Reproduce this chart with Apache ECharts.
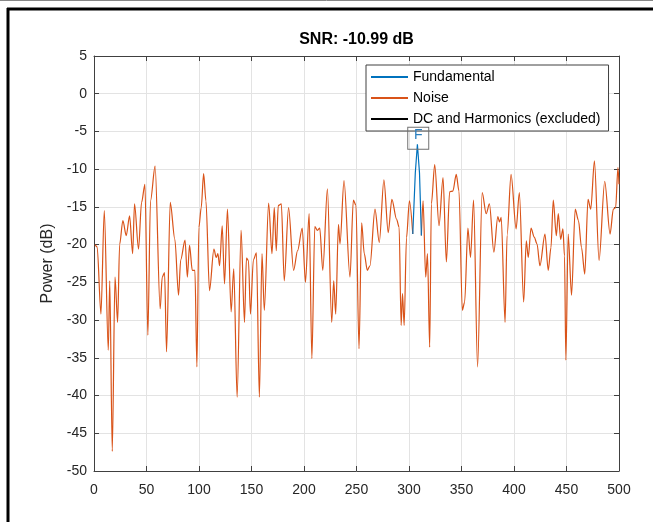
<!DOCTYPE html>
<html>
<head>
<meta charset="utf-8">
<script src="https://cdn.jsdelivr.net/npm/echarts@6/dist/echarts.min.js"></script>
<style>
html,body{margin:0;padding:0;background:#fff;}
#chart{width:653px;height:522px;}
</style>
</head>
<body>
<div id="chart"></div>
<script>
// ---- data ----
const titleText = 'SNR: -10.99 dB';
const yAxisName = 'Power (dB)';
const xTicks = [0, 50, 100, 150, 200, 250, 300, 350, 400, 450, 500];
const yTicks = [5, 0, -5, -10, -15, -20, -25, -30, -35, -40, -45, -50];
const seriesNames = ['Fundamental', 'Noise', 'DC and Harmonics (excluded)'];

const noiseFreq = [1,3,6.6,9.8,13.6,15,17.4,20,22.5,24.4,27.5,30.7,33.9,36.8,38.6,42.4,45.3,48.5,51.3,53.8,58.2,63,65,67.2,69.1,72.6,77,80.5,82.6,86.7,88.9,91,93.6,96.1,98,99.9,102.1,104.4,106.6,110,114.2,116.4,118,119.6,122.1,124.3,127.1,130.6,133.1,136.3,140.1,143.3,145.2,147.1,149,151.8,154.7,157.5,160,162.2,166.3,169.5,171.7,173.6,175.5,178.4,181.2,185.3,190.1,193.9,198.3,201.4,204.9,207.5,210.3,212.8,215,217.9,222.3,226.4,228.3,230.2,232.8,234.3,238.1,243.8,247,249.5,252.4,254.9,257.4,260.3,262.8,267.6,271.7,276.1,280.2,283.7,288.1,290.6,292.5,293.8,295.4,297.6,300.4,303.6,308,311.8,313.4,315.9,317.6,319.7,321.3,324.5,328.6,332.4,335.6,338.7,341.8,345,347.6,350.8,353,356.1,358.6,361.5,365.3,369.7,373.5,376.6,380.8,384.6,386.2,387.8,391.5,393.4,397.2,402,405.1,409.2,411.7,413.6,416.2,419.3,421.9,424.7,429.5,432.6,435.2,437.4,440.3,442.2,444.4,446.6,448.1,449.4,451.6,454.8,458.3,461.4,464.3,467.4,470.5,473.1,476.6,481,486.4,491.5,494.6,496.8,499,500];
const noisePower = [-20,-20.3,-29.2,-15.5,-34,-24.8,-47.4,-24.3,-30.3,-20,-16.8,-18.8,-16.2,-21.2,-14.6,-20.6,-14.4,-12,-32,-14.2,-9.6,-28.5,-24.3,-23.7,-34.2,-14.4,-19.3,-26.7,-22,-19.4,-24.3,-20.1,-23.4,-23.4,-36.2,-17.7,-15.1,-10.6,-14.2,-26.1,-20.6,-21.7,-21.2,-22.8,-17.5,-25.2,-15.3,-28.9,-23.2,-40.2,-18.1,-30.3,-21.8,-22.1,-29.2,-22,-21.1,-40.2,-21.2,-28.7,-14.5,-21.2,-15.1,-20.8,-14.8,-14.6,-24.8,-15.1,-23.4,-20.8,-17.8,-25,-15.9,-35.1,-17.6,-18.1,-17.8,-23.4,-12.6,-30.3,-24.8,-29.2,-17.3,-19.9,-11.5,-24.3,-14.1,-14.8,-33.8,-17.1,-21.2,-23.4,-22.8,-15.3,-19.7,-11.4,-18.4,-14,-16.6,-17.7,-30.7,-26.5,-30.7,-19.1,-14.2,-18.6,null,-18.8,-14.2,-24.3,-21.2,-33.6,-14.6,-9.4,-17.5,-11.1,-22.3,-13,-12.9,-10.7,-12.9,-28.7,-27.6,-17.8,-21.7,-14.1,-36.2,-13.1,-15.9,-14.6,-21,-16.3,-17,-16.4,-30.3,-18.8,-10.7,-17.9,-13.1,-27.6,-19.5,-21.7,-17.8,-19,-19.9,-22.8,-18.6,-23.4,-20.4,-14.1,-18.8,-15.9,-19.3,-17.9,-21.5,-35.3,-18.6,-26.7,-15.3,-16.8,-20.4,-23.9,-14,-15.3,-8.9,-22.1,-11.6,-18.6,-15.3,-15.1,-9.8,-12];

const fundFreq = [303.6, 306, 308, 310, 311.8];
const fundPower = [-18.6, -10.5, -6.7, -10.5, -18.8];
const fundLabel = 'F';
const fundMarkerFreq = 308.8;

// ---- build ----
const zip = (xs, ys) => xs.map((x, i) => [x, ys[i] === null ? '-' : ys[i]]);
const axisColor = '#404040';
const gridColor = '#e3e3e3';
const font = 'Liberation Sans, Arial, sans-serif';

const chart = echarts.init(document.getElementById('chart'), null, {renderer: 'canvas'});
const xMin = xTicks[0], xMax = xTicks[xTicks.length - 1];
const yMin = yTicks[yTicks.length - 1], yMax = yTicks[0];
const axisBase = {
  axisLine: {show: true, onZero: false, lineStyle: {color: axisColor, width: 1}},
  axisTick: {show: true, inside: true, length: 5, lineStyle: {color: axisColor}}
};

const option = {
  animation: false,
  backgroundColor: '#fff',
  grid: {left: 94, right: 34, top: 56, bottom: 51, containLabel: false},
  xAxis: [Object.assign({
    type: 'value', min: xMin, max: xMax, interval: 50,
    axisLabel: {show: true, margin: 12, color: '#262626', fontSize: 14, fontFamily: font},
    splitLine: {show: true, lineStyle: {color: gridColor, width: 1}}
  }, axisBase), Object.assign({
    type: 'value', position: 'top', min: xMin, max: xMax, interval: 50,
    axisLabel: {show: false}, splitLine: {show: false}
  }, axisBase)],
  yAxis: [Object.assign({
    type: 'value', min: yMin, max: yMax, interval: 5,
    name: yAxisName, nameLocation: 'middle', nameGap: 38,
    nameTextStyle: {color: '#262626', fontSize: 16, fontFamily: font},
    axisLabel: {show: true, margin: 7, color: '#262626', fontSize: 14, fontFamily: font},
    splitLine: {show: true, lineStyle: {color: gridColor, width: 1}}
  }, axisBase), Object.assign({
    type: 'value', position: 'right', min: yMin, max: yMax, interval: 5,
    axisLabel: {show: false}, splitLine: {show: false}
  }, axisBase)],
  legend: {
    orient: 'vertical', left: 366, top: 65,
    padding: [5, 8, 5, 4], itemGap: 7, itemWidth: 37, itemHeight: 14,
    backgroundColor: '#fff', borderColor: axisColor, borderWidth: 1,
    itemStyle: {opacity: 0},
    textStyle: {color: '#000', fontSize: 14, fontFamily: font},
    data: seriesNames
  },
  series: [{
    name: seriesNames[1], type: 'line', data: zip(noiseFreq, noisePower),
    showSymbol: false, symbol: 'none', connectNulls: false,
    smooth: 0.3, smoothMonotone: 'x',
    lineStyle: {color: '#D95319', width: 1.2}, itemStyle: {color: '#D95319'}, z: 3
  }, {
    name: seriesNames[0], type: 'line', data: zip(fundFreq, fundPower),
    showSymbol: false, symbol: 'none',
    lineStyle: {color: '#0072BD', width: 1.2}, itemStyle: {color: '#0072BD'}, z: 4,
    markPoint: {
      symbol: 'rect', symbolSize: [21, 22], symbolOffset: [0, -6], silent: true,
      itemStyle: {color: 'rgba(255,255,255,0)', borderColor: '#707070', borderWidth: 1},
      label: {show: true, formatter: fundLabel, color: '#2a7fc0', fontSize: 14, fontFamily: font, offset: [0, -3]},
      data: [{coord: [fundMarkerFreq, fundPower[2]]}]
    }
  }, {
    name: seriesNames[2], type: 'line', data: [],
    showSymbol: false, symbol: 'none',
    lineStyle: {color: '#000', width: 1.2}, itemStyle: {color: '#000'}
  }],
  graphic: [
    {type: 'text', x: 356.5, y: 40, style: {text: titleText, fill: '#000', font: 'bold 16px ' + font, textAlign: 'center', textVerticalAlign: 'middle'}},
    {type: 'line', shape: {x1: 0, y1: 0.5, x2: 653, y2: 0.5}, style: {stroke: '#888', lineWidth: 1}},
    {type: 'line', shape: {x1: 7, y1: 9, x2: 653, y2: 9}, style: {stroke: '#000', lineWidth: 3}},
    {type: 'line', shape: {x1: 8, y1: 8, x2: 8, y2: 522}, style: {stroke: '#000', lineWidth: 3}}
  ]
};
chart.setOption(option);
</script>
</body>
</html>
